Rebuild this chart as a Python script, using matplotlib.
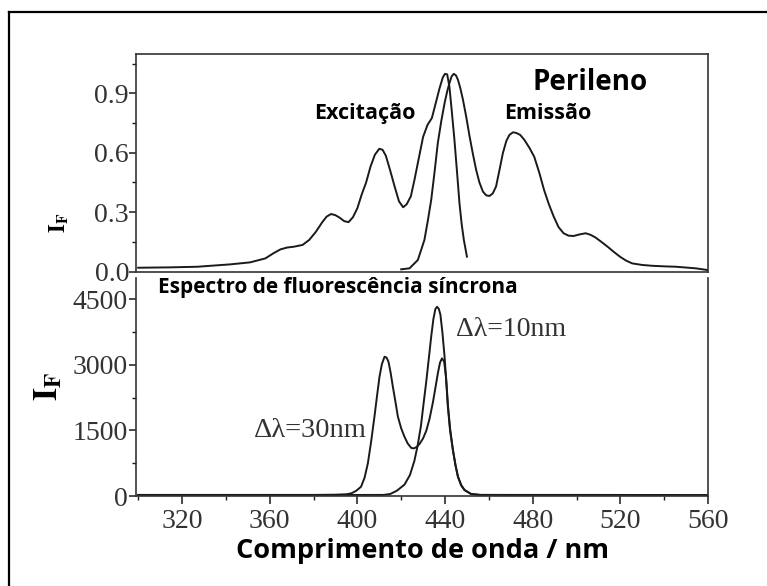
import matplotlib
matplotlib.use("Agg")
import matplotlib.pyplot as plt
from matplotlib.lines import Line2D
from matplotlib.ticker import MultipleLocator

plt.rcParams['mathtext.fontset'] = 'stix'

# espectros de excitação e emissão (normalizados)
ex_nm = [300, 315, 327, 342, 351, 358, 362, 365, 368, 371, 375, 378, 381, 384, 386, 388,
         390, 392, 394, 396, 398, 400, 402, 404, 406, 408, 410, 411.5, 413, 415, 417, 419,
         420.9, 422.5, 424.4, 426, 428, 430, 432, 434, 436, 437.5, 439, 440, 441, 442, 443,
         444.3, 445.5, 446.6, 447.6, 448.6, 450]
ex_val = [0.020, 0.022, 0.025, 0.037, 0.047, 0.067, 0.095, 0.113, 0.122, 0.126, 0.135, 0.160,
          0.200, 0.250, 0.278, 0.291, 0.285, 0.272, 0.255, 0.250, 0.275, 0.320, 0.390, 0.450,
          0.530, 0.590, 0.620, 0.615, 0.585, 0.510, 0.430, 0.355, 0.325, 0.340, 0.380, 0.460,
          0.570, 0.680, 0.740, 0.775, 0.860, 0.925, 0.980, 0.998, 0.995, 0.934, 0.820, 0.665,
          0.500, 0.345, 0.240, 0.160, 0.076]

em_nm = [420.0, 423.8, 427.6, 430.6, 432.2, 433.7, 435.2, 436.7, 438.3, 439.8, 441.0, 442.0,
         443.0, 444.0, 445.0, 445.9, 447.0, 448.2, 449.7, 451.2, 452.7, 454.2, 455.7, 457.3,
         458.8, 460.3, 461.8, 463.3, 464.8, 466.4, 468.0, 469.4, 471.0, 472.5, 474.3, 476.2,
         478.5, 480.7, 483.0, 485.2, 487.4, 489.6, 491.8, 494.1, 496.3, 498.6, 501.4, 504.2,
         506.4, 508.6, 511.4, 514.2, 517.0, 519.8, 522.6, 525.4, 530, 534.3, 540, 545.4, 550,
         554.4, 560]
em_val = [0.012, 0.017, 0.059, 0.160, 0.260, 0.362, 0.500, 0.648, 0.760, 0.850, 0.910, 0.950,
          0.985, 0.998, 0.990, 0.968, 0.925, 0.867, 0.780, 0.683, 0.595, 0.514, 0.450, 0.404,
          0.385, 0.382, 0.395, 0.430, 0.510, 0.598, 0.660, 0.690, 0.703, 0.700, 0.690, 0.665,
          0.625, 0.580, 0.500, 0.412, 0.340, 0.278, 0.225, 0.194, 0.182, 0.180, 0.188, 0.194,
          0.186, 0.173, 0.150, 0.126, 0.100, 0.076, 0.056, 0.042, 0.034, 0.030, 0.027, 0.025,
          0.021, 0.017, 0.008]

# fluorescência síncrona, delta lambda = 30 nm
s30_nm = [300, 340, 380, 390, 395, 397.2, 399.5, 401.7, 403.3, 404.8, 406.3, 407.8, 409,
          410.1, 411.2, 412.4, 413.3, 414.2, 415.2, 416.2, 417.4, 418.5, 420, 421.5, 423,
          424.6, 425.8, 427, 428.5, 430, 431.5, 433, 434.5, 435.7, 436.7, 437.7, 438.6, 439.6,
          440.5, 441.3, 442.3, 443.6, 444.8, 445.9, 447.4, 448.9, 451.9, 456, 480, 510, 560]
s30_val = [25, 25, 25, 30, 40, 60, 120, 213, 420, 748, 1250, 1815, 2300, 2730, 3020, 3188,
           3170, 3073, 2820, 2501, 2150, 1815, 1550, 1357, 1200, 1100, 1090, 1120, 1200, 1320,
           1500, 1780, 2150, 2500, 2800, 3050, 3150, 3080, 2700, 2100, 1550, 1053, 700, 442,
           250, 137, 46, 25, 25, 25, 20]

# fluorescência síncrona, delta lambda = 10 nm
s10_nm = [300, 360, 412, 415, 418, 421.5, 424, 426, 427.5, 429, 430.3, 431.4, 432.5, 433.7,
          434.7, 435.6, 436.4, 437.2, 437.9, 438.8, 439.8, 440.6, 441.3, 442.3, 443.6, 444.8,
          445.9, 447.4, 448.9, 451.9, 456, 500, 560]
s10_val = [20, 20, 25, 46, 120, 260, 480, 800, 1150, 1600, 2150, 2600, 3100, 3650, 4050,
           4280, 4332, 4280, 4150, 3750, 3188, 2600, 2044, 1500, 1053, 700, 442, 240, 137, 46,
           25, 20, 20]

x_ticks = [320, 360, 400, 440, 480, 520, 560]

W, H = 767, 586
fig = plt.figure(figsize=(W / 100, H / 100), dpi=100)

serif = 'Liberation Serif'
sans = ['Open Sans', 'DejaVu Sans']
ink = '#1a1a1a'
gray = '#333333'
tick_fs = 20

# painel superior
ax1 = fig.add_axes([136 / W, 1 - 272.3 / H, (708 - 136) / W, (272.3 - 54) / H])
ax1.plot(ex_nm, ex_val, color=ink, lw=1.4)
ax1.plot(em_nm, em_val, color=ink, lw=1.4)
ax1.set_xlim(299, 560)
ax1.set_ylim(-0.003, 1.098)
ax1.set_yticks([0.0, 0.3, 0.6, 0.9])
ax1.set_yticklabels(['0.0', '0.3', '0.6', '0.9'])
ax1.yaxis.set_minor_locator(MultipleLocator(0.15))
ax1.set_xticks([])
ax1.tick_params(axis='y', which='major', direction='out', length=5, width=1.1, pad=0,
                labelsize=tick_fs, color=ink)
ax1.tick_params(axis='y', which='minor', direction='out', length=3, width=1.0, color=ink)
for lab in ax1.get_yticklabels():
    lab.set_fontfamily(serif)
    lab.set_color(gray)
for sp in ax1.spines.values():
    sp.set_color(gray)
    sp.set_linewidth(1.2)

ax1.text(403.3, 0.80, 'Excitação', fontsize=15.5, fontweight='bold', family=sans,
         ha='center', va='center')
ax1.text(487.1, 0.80, 'Emissão', fontsize=15.5, fontweight='bold', family=sans,
         ha='center', va='center')
ax1.text(506.2, 0.955, 'Perileno', fontsize=20, fontweight='bold', family=sans,
         ha='center', va='center')

# painel inferior
ax2 = fig.add_axes([136 / W, 1 - 496 / H, (708 - 136) / W, (496 - 278) / H])
ax2.plot(s30_nm, s30_val, color=ink, lw=1.4)
ax2.plot(s10_nm, s10_val, color=ink, lw=1.4)
ax2.set_xlim(299, 560)
ax2.set_ylim(0, 4990)
ax2.set_xticks(x_ticks)
ax2.xaxis.set_minor_locator(MultipleLocator(20))
ax2.set_yticks([0, 1500, 3000, 4500])
ax2.yaxis.set_minor_locator(MultipleLocator(750))
ax2.spines['top'].set_visible(False)
for sp in ax2.spines.values():
    sp.set_color(gray)
    sp.set_linewidth(1.2)
ax2.tick_params(axis='y', which='major', direction='out', length=5, width=1.1, pad=1,
                labelsize=tick_fs, color=ink)
ax2.tick_params(axis='x', which='major', direction='out', length=6, width=1.1, pad=3,
                labelsize=tick_fs, color=ink)
ax2.tick_params(which='minor', direction='out', length=3, width=1.0, color=ink)
for lab in ax2.get_xticklabels() + ax2.get_yticklabels():
    lab.set_fontfamily(serif)
    lab.set_color(gray)

ax2.text(309.1, 4781, 'Espectro de fluorescência síncrona', fontsize=15,
         fontweight='bold', family=sans, ha='left', va='center')
ax2.text(445.1, 3820, 'Δλ=10nm', fontsize=20, family=serif, color=gray,
         ha='left', va='center')
ax2.text(404.5, 1510, 'Δλ=30nm', fontsize=20.5, family=serif, color=gray,
         ha='right', va='center')

fig.text(422 / W, 1 - 551 / H, 'Comprimento de onda / nm', fontsize=19.5,
         fontweight='bold', family=sans, ha='center', va='center')

# rótulos I_F
fig.text(59 / W, 1 - 223 / H, r'$\mathbf{I_F}$', fontsize=16, rotation=90,
         ha='center', va='center')
fig.text(48 / W, 1 - 386 / H, r'$\mathbf{I_F}$', fontsize=24, rotation=90,
         ha='center', va='center')

# moldura externa
lw_frame = 1.6
fig.add_artist(Line2D([9 / W, 9 / W], [0, 1 - 12 / H], transform=fig.transFigure,
                      color='black', lw=lw_frame))
fig.add_artist(Line2D([9 / W, 1], [1 - 12 / H, 1 - 12 / H], transform=fig.transFigure,
                      color='black', lw=lw_frame))

fig.savefig('out.png', dpi=100)
